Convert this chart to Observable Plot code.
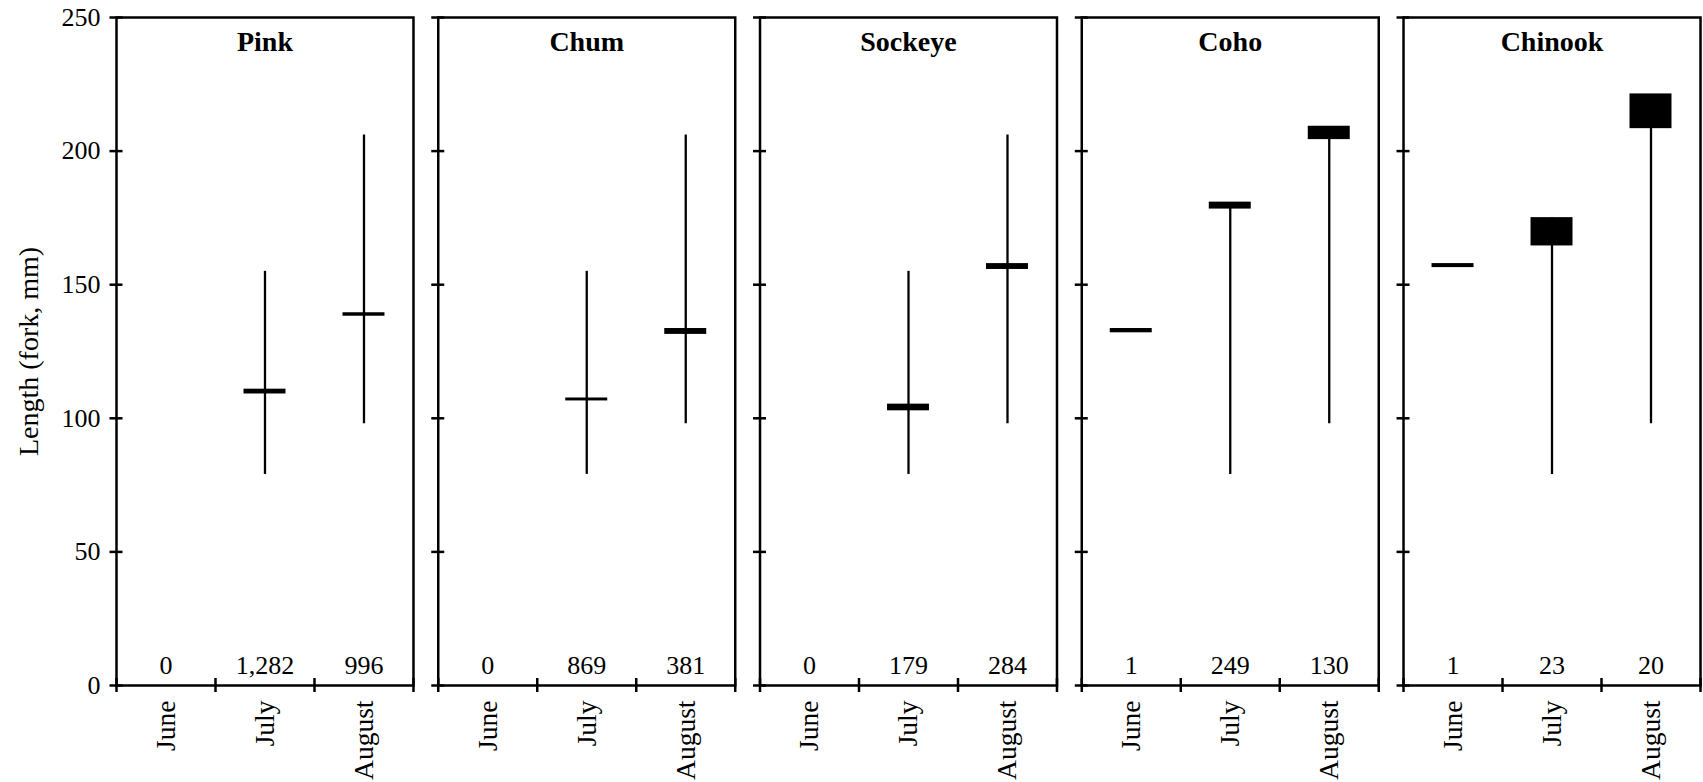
<!DOCTYPE html>
<html>
<head>
<meta charset="utf-8">
<script src="https://cdn.jsdelivr.net/npm/d3@7"></script>
<script src="https://cdn.jsdelivr.net/npm/@observablehq/plot@0.6"></script>
<style>
  html, body { margin: 0; padding: 0; background: white; }
</style>
</head>
<body>
<div id="chart"></div>
<script>
const species = ["Pink", "Chum", "Sockeye", "Coho", "Chinook"];
const months = ["June", "July", "August"];
const sampleSize = [
  ["0", "1,282", "996"],
  ["0", "869", "381"],
  ["0", "179", "284"],
  ["1", "249", "130"],
  ["1", "23", "20"]
];
const rangeLow = [
  [null, 79, 98],
  [null, 79, 98],
  [null, 79, 98],
  [null, 79, 98],
  [null, 79, 98]
];
const rangeHigh = [
  [null, 155, 206],
  [null, 155, 206],
  [null, 155, 206],
  [null, 180, 209],
  [null, 175, 221]
];
const boxLow = [
  [null, 109.1, 138.2],
  [null, 106.5, 131.4],
  [null, 102.8, 155.7],
  [132.0, 178.3, 204.3],
  [156.4, 164.5, 208.4]
];
const boxHigh = [
  [null, 110.9, 139.5],
  [null, 107.6, 133.6],
  [null, 105.3, 157.9],
  [133.6, 180.9, 209.3],
  [157.9, 175.1, 221.4]
];
const yTicks = [0, 50, 100, 150, 200, 250];
const yLabel = "Length (fork, mm)";

const rows = [];
species.forEach((s, i) => {
  months.forEach((m, j) => {
    rows.push({
      species: s, month: m, xc: j + 0.5,
      n: sampleSize[i][j],
      lo: rangeLow[i][j], hi: rangeHigh[i][j],
      bLo: boxLow[i][j], bHi: boxHigh[i][j]
    });
  });
});
const half = 0.212;

const chart = Plot.plot({
  width: 1703,
  height: 782,
  marginLeft: 116,
  marginRight: 3,
  marginTop: 17,
  marginBottom: 97,
  style: {
    fontFamily: "'Liberation Serif', 'Times New Roman', serif",
    fontSize: "26px",
    background: "white",
    color: "black"
  },
  fx: {domain: species, paddingInner: 0.077, paddingOuter: 0, round: false, axis: null, label: null},
  x: {domain: [0, 3], axis: null},
  y: {domain: [0, 250], axis: null, label: null},
  marks: [
    Plot.frame({stroke: "black", strokeWidth: 2.5}),
    // y ticks crossing axis in every panel
    Plot.axisY(yTicks, {tickSize: 13, dx: 6.5, fill: "none", facetAnchor: null, strokeWidth: 2.5, label: null}),
    // y tick labels (first panel only)
    Plot.axisY(yTicks, {tickSize: 0, tickPadding: 16, stroke: "none", label: null}),
    // x ticks at month boundaries
    Plot.axisX([0, 1, 2, 3], {tickSize: 14, dy: -7, fill: "none", facetAnchor: null, strokeWidth: 2.5, label: null}),
    // month labels
    Plot.text(rows, {fx: "species", x: "xc", text: "month", frameAnchor: "bottom", dy: 15, rotate: -90, textAnchor: "end", lineAnchor: "middle", fontSize: 27.5}),
    // ranges
    Plot.ruleX(rows.filter(d => d.lo != null), {fx: "species", x: "xc", y1: "lo", y2: "hi", stroke: "black", strokeWidth: 2.3}),
    // boxes
    Plot.rect(rows.filter(d => d.bLo != null), {fx: "species", x1: d => d.xc - half, x2: d => d.xc + half, y1: "bLo", y2: "bHi", fill: "black"}),
    // sample sizes
    Plot.text(rows, {fx: "species", x: "xc", text: "n", frameAnchor: "bottom", dy: -12, lineAnchor: "bottom"}),
    // panel titles
    Plot.text(species, {fx: d => d, text: d => d, frameAnchor: "top", dy: 14, lineAnchor: "top", fontWeight: "bold", fontSize: 28}),
    // y-axis title
    Plot.text([{species: "Pink", t: yLabel}], {fx: "species", text: "t", frameAnchor: "left", dx: -87, rotate: -90, textAnchor: "middle", lineAnchor: "middle", fontSize: 28})
  ]
});
document.getElementById("chart").appendChild(chart);
</script>
</body>
</html>
